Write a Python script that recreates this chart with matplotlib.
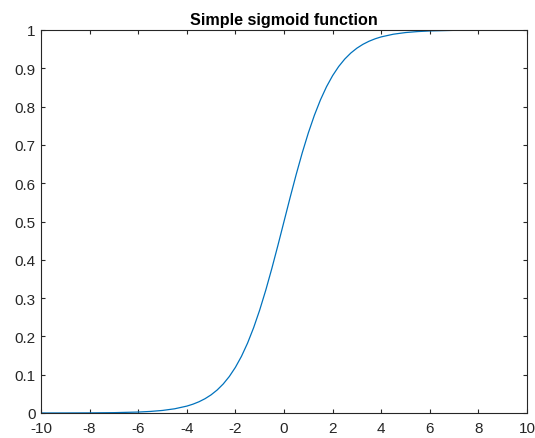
import matplotlib
matplotlib.use("Agg")
import matplotlib.pyplot as plt

# Sample points of the logistic curve
x_neg = [-10, -9, -8, -7, -6, -5.5, -5, -4.5, -4, -3.75, -3.5, -3.25, -3,
         -2.75, -2.5, -2.25, -2, -1.75, -1.5, -1.25, -1, -0.75, -0.5, -0.25]
y_neg = [0.0000454, 0.000123, 0.000335, 0.000911, 0.002473, 0.004070,
         0.006693, 0.010987, 0.017986, 0.02298, 0.029312, 0.03732, 0.047426,
         0.06009, 0.075858, 0.09535, 0.119203, 0.14804, 0.182426, 0.22270,
         0.268941, 0.32082, 0.377541, 0.43782]
x_mid = [0.0]
y_mid = [0.5]
x_pos = [0.25, 0.5, 0.75, 1, 1.25, 1.5, 1.75, 2, 2.25, 2.5, 2.75, 3, 3.25,
         3.5, 3.75, 4, 4.5, 5, 5.5, 6, 7, 8, 9, 10]
y_pos = [0.56218, 0.622459, 0.67918, 0.731059, 0.77730, 0.817574, 0.85196,
         0.880797, 0.90465, 0.924142, 0.93991, 0.952574, 0.96268, 0.970688,
         0.97702, 0.982014, 0.989013, 0.993307, 0.995930, 0.997527, 0.999089,
         0.999665, 0.999877, 0.9999546]

x_vals = x_neg + x_mid + x_pos
y_vals = y_neg + y_mid + y_pos

x_ticks = [-10, -8, -6, -4, -2, 0, 2, 4, 6, 8, 10]
x_tick_labels = ["-10", "-8", "-6", "-4", "-2", "0", "2", "4", "6", "8", "10"]
y_ticks = [0, 0.1, 0.2, 0.3, 0.4, 0.5, 0.6, 0.7, 0.8, 0.9, 1]
y_tick_labels = ["0", "0.1", "0.2", "0.3", "0.4", "0.5", "0.6", "0.7", "0.8", "0.9", "1"]

plt.rcParams["font.family"] = ["Liberation Sans", "DejaVu Sans"]

fig = plt.figure(figsize=(5.35, 4.39), dpi=100)
ax = fig.add_axes([41 / 535, 25 / 439, 486 / 535, 383 / 439])

ax.plot(x_vals, y_vals, color="#0072BD", linewidth=0.9)

ax.set_xlim(-10, 10)
ax.set_ylim(0, 1)
ax.set_xticks(x_ticks)
ax.set_xticklabels(x_tick_labels)
ax.set_yticks(y_ticks)
ax.set_yticklabels(y_tick_labels)

axis_color = "#262626"
for side in ax.spines.values():
    side.set_color(axis_color)
    side.set_linewidth(0.8)
ax.tick_params(direction="in", length=3, width=0.8, colors=axis_color,
               labelsize=11, top=True, right=True)
ax.tick_params(axis="x", pad=5.5)
ax.tick_params(axis="y", pad=4)

ax.set_title("Simple sigmoid function", fontsize=11.6, fontweight="bold",
             color="black", pad=4)

fig.savefig("out.png", dpi=100)
